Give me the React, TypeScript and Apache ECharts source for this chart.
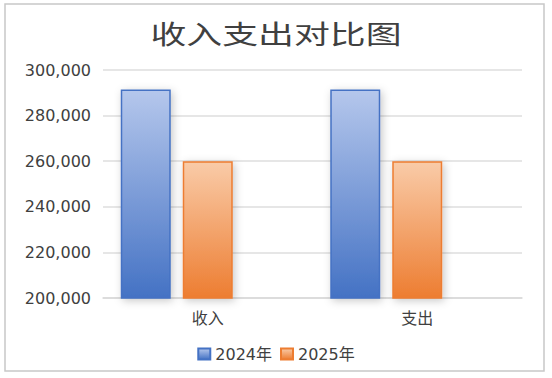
import React, { useEffect, useRef } from 'react';
import * as echarts from 'echarts';

const titleText = '收入支出对比图';
const categories = ['收入', '支出'];
const seriesNames = ['2024年', '2025年'];
const values2024 = [291500, 291500];
const values2025 = [260000, 260000];
const emptySlot = [null, null];
const yMin = 200000;
const yMax = 300000;
const yInterval = 20000;

export default function App() {
  const ref = useRef<HTMLDivElement>(null);

  useEffect(() => {
    if (!ref.current) return;
    const chart = echarts.init(ref.current, undefined, { renderer: 'svg' });

    const barStyle = (light: string, dark: string) => ({
      color: new echarts.graphic.LinearGradient(0, 0, 0, 1, [
        { offset: 0, color: light },
        { offset: 1, color: dark },
      ]),
      borderColor: dark,
      borderWidth: 1.5,
      shadowBlur: 8,
      shadowColor: 'rgba(0,0,0,0.22)',
      shadowOffsetX: 2,
      shadowOffsetY: 2,
    });

    chart.setOption({
      animation: false,
      backgroundColor: '#ffffff',
      graphic: [
        {
          type: 'rect',
          silent: true,
          z: -1,
          shape: { x: 5, y: 4, width: 539, height: 367 },
          style: { fill: 'none', stroke: '#c8c8c8', lineWidth: 1.5 },
        },
        {
          type: 'text',
          x: 276,
          y: 33,
          scaleX: 1.38,
          style: {
            text: titleText,
            textAlign: 'center',
            textVerticalAlign: 'middle',
            fontSize: 26,
            fontFamily: '"Noto Sans CJK SC", sans-serif',
            fill: '#404040',
          },
        },
      ],
      legend: {
        data: seriesNames,
        left: 'center',
        top: 341,
        icon: 'rect',
        itemWidth: 12,
        itemHeight: 11,
        itemGap: 8,
        textStyle: {
          fontSize: 16,
          color: '#404040',
          fontFamily: '"DejaVu Sans", "Noto Sans CJK SC", sans-serif',
        },
      },
      grid: { left: 103, right: 30, top: 70, bottom: 80, containLabel: false },
      xAxis: {
        type: 'category',
        data: categories,
        axisLine: { show: true, lineStyle: { color: '#d9d9d9', width: 1.5 } },
        axisTick: { show: false },
        axisLabel: {
          fontSize: 16,
          color: '#404040',
          margin: 11,
          fontFamily: '"Noto Sans CJK SC", sans-serif',
        },
      },
      yAxis: {
        type: 'value',
        min: yMin,
        max: yMax,
        interval: yInterval,
        axisLine: { show: false },
        axisTick: { show: false },
        splitLine: { lineStyle: { color: '#dedede', width: 1.5 } },
        axisLabel: {
          fontSize: 16,
          color: '#404040',
          margin: 12,
          fontFamily: '"DejaVu Sans", sans-serif',
          formatter: (v: number) => v.toLocaleString('en-US'),
        },
      },
      series: [
        {
          name: seriesNames[0],
          type: 'bar',
          data: values2024,
          barWidth: 50,
          barGap: '24%',
          itemStyle: barStyle('#b5c7ec', '#4472c4'),
        },
        {
          name: seriesNames[1],
          type: 'bar',
          data: values2025,
          barWidth: 50,
          barGap: '24%',
          itemStyle: barStyle('#f9cba8', '#ed7d31'),
        },
        {
          name: 'spacer',
          type: 'bar',
          data: emptySlot,
          barWidth: 50,
          barGap: '24%',
          silent: true,
        },
      ],
    });

    return () => chart.dispose();
  }, []);

  return (
    <div
      ref={ref}
      style={{ position: 'fixed', left: 0, top: 0, width: 552, height: 378 }}
    />
  );
}
